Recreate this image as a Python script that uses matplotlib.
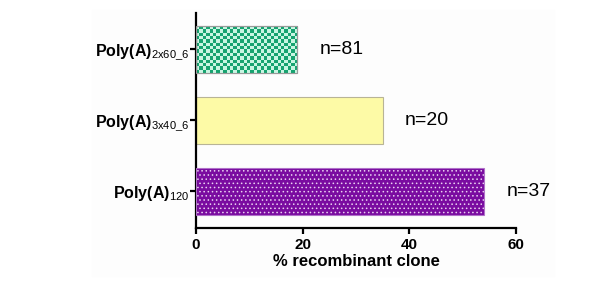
import numpy as np
import matplotlib
matplotlib.use('Agg')
import matplotlib.pyplot as plt
from matplotlib.patches import Rectangle

plt.rcParams['font.family'] = ['Liberation Sans', 'DejaVu Sans']
plt.rcParams['mathtext.fontset'] = 'custom'
plt.rcParams['mathtext.rm'] = 'Liberation Sans'
plt.rcParams['hatch.linewidth'] = 0.6

# data (bottom to top)
labels = [r'Poly(A)$_{\mathrm{120}}$',
          r'Poly(A)$_{\mathrm{3x40\_6}}$',
          r'Poly(A)$_{\mathrm{2x60\_6}}$']
values = [54, 35, 19]
counts = ['n=37', 'n=20', 'n=81']

fig = plt.figure(figsize=(6.08, 2.86), dpi=100)
fig.patches.append(Rectangle((92/608, 10/286), 462/608, 266/286,
                             transform=fig.transFigure, color='#fdfdfd',
                             zorder=-5))
ax = fig.add_axes([196/608, 58/286, 320/608, 215/286])
ax.patch.set_alpha(0)

ypos = np.arange(len(values))
h = 0.66

# purple with white dots
ax.barh(ypos[0], values[0], h, color='#7a0ca0', edgecolor='none', zorder=2)
ax.barh(ypos[0], values[0], h, color='none', edgecolor='#e8d0f0',
        hatch='....', linewidth=0, zorder=3)
ax.barh(ypos[0], values[0], h, color='none', edgecolor='#b070c8',
        linewidth=0.8, zorder=4)

# yellow
ax.barh(ypos[1], values[1], h, color='#fdfaa6', edgecolor='#b8b496',
        linewidth=0.8, zorder=2)

# green checkerboard
gbar = ax.barh(ypos[2], values[2], h, color='#c9f5e2', edgecolor='#9a9a9a',
               linewidth=0.8, zorder=2)[0]
nx = int(round(values[2] * 320 / 60 / 3.4))
ny = int(round(h * 71 / 3.4))
checker = (np.add.outer(np.arange(ny), np.arange(nx)) % 2).astype(float)
cmap = matplotlib.colors.ListedColormap(['#c9f5e2', '#17a370'])
im = ax.imshow(checker, cmap=cmap, aspect='auto', interpolation='nearest',
               extent=(0, values[2], ypos[2] - h / 2, ypos[2] + h / 2),
               zorder=2.5)
im.set_clip_path(gbar)
ax.barh(ypos[2], values[2], h, color='none', edgecolor='#9a9a9a',
        linewidth=0.8, zorder=4)

for y, v, c in zip(ypos, values, counts):
    ax.annotate(c, (v, y), xytext=(16, 0), textcoords='offset points',
                ha='left', va='center', fontsize=14)

ax.set_xlim(0, 60)
ax.set_ylim(-0.52, 2.51)
ax.set_xticks([0, 20, 40, 60])
ax.set_yticks(ypos)
ax.set_yticklabels(labels, fontweight='bold', fontsize=11.5)
for t in ax.get_xticklabels():
    t.set_fontweight('bold')
    t.set_fontsize(11)
ax.set_xlabel('% recombinant clone', fontweight='bold', fontsize=12,
              labelpad=2)
ax.spines['top'].set_visible(False)
ax.spines['right'].set_visible(False)
ax.spines['left'].set_linewidth(1.6)
ax.spines['bottom'].set_linewidth(1.6)
ax.tick_params(width=1.6, length=4, pad=3)
ax.tick_params(axis='y', pad=1)

fig.savefig('out.png', dpi=100)
